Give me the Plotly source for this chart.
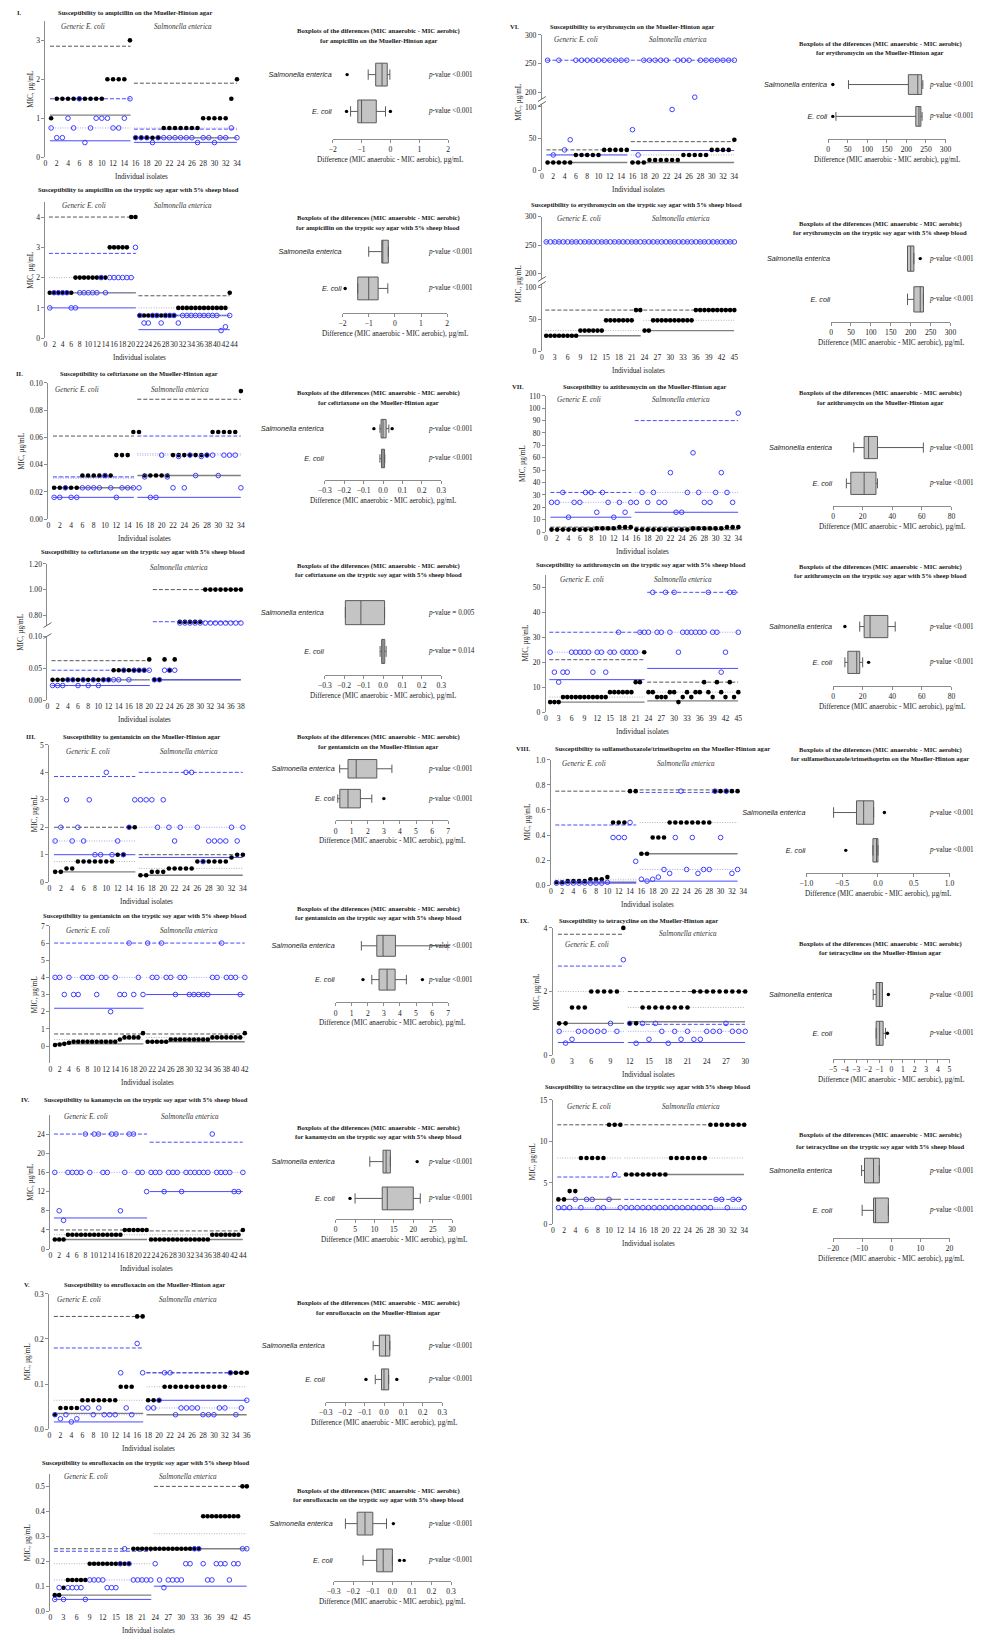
import plotly.graph_objects as go

# ============================ DATA ============================
# MIC values (µg/mL) per isolate: "aerobic" = filled black dots, "anaerobic" = open blue circles.
# Reference levels per group: [aer dashed, aer dotted, aer solid, anaer dashed, anaer dotted, anaer solid]

# I. Ampicillin - Mueller-Hinton
amp_mh_n_ecoli = 15
amp_mh_aerobic = [1, 1.5, 1.5, 1.5, 1.5, 1.5, 1.5, 1.5, 1.5, 1.5, 2, 2, 2, 2, 3,
                  0.5, 0.5, 0.5, 0.5, 0.5, 0.75, 0.75, 0.75, 0.75, 0.75, 0.75, 0.75, 1, 1, 1, 1, 1, 1.5, 2]
amp_mh_anaerobic = [0.75, 0.5, 0.5, 1, 0.75, 1.5, 0.375, 0.75, 1, 1, 1, 0.75, 0.75, 1, 1.5,
                    0.5, 0.5, 0.5, 0.375, 0.5, 0.5, 0.5, 0.5, 0.5, 0.5, 0.5, 0.375, 0.5, 0.5, 0.375, 0.5, 0.5, 0.75, 0.5]
amp_mh_ref_ecoli = [2.85, None, 1.08, 1.5, 0.75, 0.42]
amp_mh_ref_salm = [1.9, 0.75, 0.5, 0.72, 0.5, 0.38]

# I. Ampicillin - tryptic soy agar + blood
amp_tsa_n_ecoli = 21
amp_tsa_aerobic = [1.5] * 6 + [2] * 8 + [3] * 5 + [4] * 2 + [0.75] * 9 + [1] * 12 + [1.5]
amp_tsa_anaerobic = [1, 1.5, 1.5, 1.5, 1.5, 1, 1, 1.5, 1.5, 1.5, 1.5, 1.5, 2, 1.5, 2, 2, 2, 2, 2, 2, 3,
                     0.75, 0.5, 0.5, 0.75, 0.75, 0.5, 0.75, 0.75, 0.75, 0.5] + [0.75] * 9 + [0.25, 0.375, 0.75]
amp_tsa_ref_ecoli = [4.0, 2.0, 1.5, 2.8, 1.5, 1.0]
amp_tsa_ref_salm = [1.4, 1.0, 0.75, 0.75, 0.75, 0.28]

# II. Ceftriaxone - Mueller-Hinton
cef_mh_n_ecoli = 15
cef_mh_aerobic = [0.023] * 5 + [0.032] * 6 + [0.047] * 3 + [0.064] + \
                 [0.064] + [0.032] * 5 + [0.047] * 7 + [0.064] * 5 + [0.094]
cef_mh_anaerobic = [0.016, 0.016, 0.023, 0.016, 0.016, 0.023, 0.023, 0.023, 0.023, 0.032, 0.023, 0.016, 0.023, 0.023, 0.023,
                    0.023, 0.031, 0.016, 0.016, 0.047, 0.031, 0.023, 0.046, 0.023, 0.047, 0.032, 0.046, 0.047, 0.047,
                    0.032, 0.047, 0.047, 0.047, 0.023]
cef_mh_ref_ecoli = [0.061, 0.031, 0.023, 0.031, 0.030, 0.016]
cef_mh_ref_salm = [0.088, 0.048, 0.032, 0.061, 0.047, 0.016]

# II. Ceftriaxone - tryptic soy agar + blood
cef_tsa_n_ecoli = 20
cef_tsa_aerobic = [0.032] * 12 + [0.047] * 7 + [0.064] + [0.032, 0.032, 0.064, 0.047, 0.064] + [0.75] * 5 + [1.0] * 8
cef_tsa_anaerobic = [0.023, 0.023, 0.023, 0.032, 0.032, 0.023, 0.032, 0.023, 0.032, 0.023, 0.032, 0.032, 0.032, 0.032,
                     0.047, 0.032, 0.047, 0.047, 0.047, 0.047, 0.032, 0.032, 0.047, 0.047, 0.047] + [0.74] * 13
cef_tsa_ref_ecoli = [0.062, 0.032, 0.032, 0.047, 0.032, 0.023]
cef_tsa_ref_salm = [1.0, None, 0.032, 0.75, None, 0.032]

# III. Gentamicin - Mueller-Hinton
gen_mh_n_ecoli = 15
gen_mh_aerobic = [0.375, 0.375, 0.5, 0.5] + [0.75] * 7 + [1, 1, 2, 2] + \
                 [0.25, 0.25, 0.375, 0.375, 0.375] + [0.5] * 5 + [0.75] * 6 + [0.9, 1, 1]
gen_mh_anaerobic = [1.5, 2, 3, 1.5, 2, 1.5, 3, 1, 1, 4, 1, 1.5, 1, 2, 3,
                    3, 3, 3, 2, 3, 2, 1.5, 2, 4, 4, 2, 0.75, 1.5, 1.5, 1.5, 1.5, 2, 1.5, 2]
gen_mh_ref_ecoli = [2.0, 0.75, 0.375, 3.85, 1.5, 1.0]
gen_mh_ref_salm = [1.0, 0.5, 0.25, 4.0, 2.0, 0.9]

# III. Gentamicin - tryptic soy agar + blood
gen_tsa_n_ecoli = 20
gen_tsa_aerobic = [0.06, 0.09, 0.125, 0.19] + [0.25] * 10 + [0.375] + [0.5] * 4 + [0.75] + \
                  [0.25] * 5 + [0.375] * 9 + [0.5] * 7 + [0.75]
gen_tsa_anaerobic = [4, 4, 3, 4, 3, 3, 4, 4, 4, 3, 4, 4, 2, 4, 3, 3, 6, 3, 4, 3,
                     6, 4, 4, 6, 4, 4, 3, 4, 4, 3, 3, 3, 3, 3, 4, 4, 6, 4, 4, 4, 3, 4]
gen_tsa_ref_ecoli = [0.7, 0.375, 0.125, 6.0, 4.0, 2.2]
gen_tsa_ref_salm = [0.7, 0.5, 0.25, 6.0, 4.0, 3.0]

# IV. Kanamycin - tryptic soy agar + blood
kan_tsa_n_ecoli = 22
kan_tsa_aerobic = [2] * 3 + [3] * 13 + [4] * 6 + [2] * 14 + [3] * 7 + [4]
kan_tsa_anaerobic = [16, 8, 6, 16, 16, 16, 16, 24, 16, 24, 24, 16, 16, 24, 24, 8, 16, 24, 24, 16, 16, 12,
                     16, 16, 16, 12, 16, 16, 16, 12, 16, 16, 16, 16, 16, 16, 24, 16, 16, 16, 16, 12, 12, 16]
kan_tsa_ref_ecoli = [4, 3, 2, 24, 16, 6.5]
kan_tsa_ref_salm = [3.8, 3, 2, 22.3, 16, 12]

# V. Enrofloxacin - Mueller-Hinton
enr_mh_n_ecoli = 17
enr_mh_aerobic = [0.032] + [0.047] * 4 + [0.064] * 7 + [0.094] * 3 + [0.25] * 2 + \
                 [0.064] * 3 + [0.094] * 12 + [0.125] * 4
enr_mh_anaerobic = [0.032, 0.023, 0.032, 0.016, 0.023, 0.047, 0.047, 0.032, 0.047, 0.032, 0.032, 0.032, 0.125, 0.047,
                    0.032, 0.19, 0.125,
                    0.047, 0.047, 0.064, 0.125, 0.125, 0.032, 0.047, 0.047, 0.047, 0.047, 0.032, 0.032, 0.032, 0.047,
                    0.047, 0.125, 0.032, 0.047, 0.064]
enr_mh_ref_ecoli = [0.25, 0.064, 0.035, 0.18, 0.032, 0.016]
enr_mh_ref_salm = [0.125, 0.094, 0.032, 0.125, 0.047, 0.064]

# V. Enrofloxacin - tryptic soy agar + blood
enr_tsa_n_ecoli = 23
enr_tsa_aerobic = [0.064, 0.064, 0.094] + [0.125] * 5 + [0.19] * 10 + [0.25] * 5 + [0.25] * 11 + [0.38] * 9 + [0.5] * 2
enr_tsa_anaerobic = [0.047, 0.094, 0.047, 0.094, 0.094, 0.094, 0.094, 0.047, 0.125, 0.125, 0.125, 0.125, 0.094, 0.094,
                     0.094, 0.19, 0.25, 0.19, 0.125, 0.125, 0.125, 0.125, 0.125,
                     0.19, 0.125, 0.094, 0.125, 0.125, 0.125, 0.125, 0.19, 0.19, 0.25, 0.25, 0.19, 0.125, 0.125, 0.19,
                     0.19, 0.19, 0.125, 0.19, 0.19, 0.25, 0.25]
enr_tsa_ref_ecoli = [0.25, 0.19, 0.064, 0.24, 0.125, 0.047]
enr_tsa_ref_salm = [0.5, 0.31, 0.25, None, None, 0.1]

# VI. Erythromycin - Mueller-Hinton
ery_mh_n_ecoli = 15
ery_mh_aerobic = [12] * 5 + [24] * 5 + [32] * 5 + [12] * 3 + [16] * 6 + [24] * 5 + [32] * 4 + [48]
ery_mh_anaerobic = [256, 24, 256, 32, 48] + [256] * 10 + \
                   [64, 24, 256, 256, 256, 256, 256, 96, 256, 256, 256, 192, 256, 256, 256, 256, 256, 256, 256]
ery_mh_ref_ecoli = [32, 24, 12, 256, None, 24]
ery_mh_ref_salm = [45, 24, 12, 256, None, 31]

# VI. Erythromycin - tryptic soy agar + blood
ery_tsa_n_ecoli = 23
ery_tsa_aerobic = [24] * 8 + [32] * 6 + [48] * 7 + [64] * 2 + [32] * 2 + [48] * 10 + [64] * 10
ery_tsa_anaerobic = [256] * 45
ery_tsa_ref_ecoli = [64, 32, 24, 256, None, None]
ery_tsa_ref_salm = [64, 48, 32, 256, None, None]

# VII. Azithromycin - Mueller-Hinton
azi_mh_n_ecoli = 15
azi_mh_aerobic = [2] * 8 + [3] * 4 + [4] * 3 + [2] * 10 + [3] * 6 + [4] * 3
azi_mh_anaerobic = [24, 24, 32, 12, 24, 24, 32, 32, 16, 32, 24, 12, 24, 16, 24,
                    24, 32, 24, 32, 24, 24, 48, 16, 16, 32, 64, 32, 24, 24, 32, 48, 32, 24, 96]
azi_mh_ref_ecoli = [4, 3, 2, 32, 24, 12]
azi_mh_ref_salm = [4, 3, 2, 90, 32, 16]

# VII. Azithromycin - tryptic soy agar + blood
azi_tsa_n_ecoli = 23
azi_tsa_aerobic = [4] * 3 + [6] * 11 + [8] * 6 + [12, 12, 24] + \
                  [8, 8, 6, 6, 6, 8, 8, 4, 6, 8, 6, 8, 8, 12, 8, 6, 12, 8, 6, 12, 6, 8]
azi_tsa_anaerobic = [24, 16, 12, 16, 16, 24, 24, 24, 24, 24, 16, 24, 24, 16, 24, 24, 32, 24, 24, 24, 24, 32, 32,
                     32, 48, 32, 32, 48, 32, 48, 24, 32, 32, 32, 32, 32, 32, 48, 32, 32, 16, 24, 48, 48, 32]
azi_tsa_ref_ecoli = [21, 6, 4, 32, 24, 13]
azi_tsa_ref_salm = [12, 8, 4.5, 48, 32, 17.5]

# VIII. Sulfamethoxazole/trimethoprim - Mueller-Hinton
sxt_mh_n_ecoli = 15
sxt_mh_aerobic = [0.023, 0.023, 0.032, 0.032, 0.032, 0.032, 0.047, 0.047, 0.047, 0.064, 0.5, 0.5, 0.5, 0.75, 0.75,
                  0.25, 0.25, 0.38, 0.38, 0.38] + [0.5] * 8 + [0.75] * 5
sxt_mh_anaerobic = [0.016] * 9 + [0.023, 0.38, 0.38, 0.38, 0.5, 0.19,
                                  0.047, 0.032, 0.047, 0.064, 0.125, 0.094, 0.38, 0.75, 0.125, 0.38, 0.094, 0.125,
                                  0.125, 0.75, 0.38, 0.75, 0.094, 0.125]
sxt_mh_ref_ecoli = [0.75, 0.047, 0.023, 0.48, 0.032, 0.016]
sxt_mh_ref_salm = [0.76, 0.5, 0.25, 0.74, 0.125, 0.032]

# IX. Tetracycline - Mueller-Hinton
tet_mh_n_ecoli = 11
tet_mh_aerobic = [1, 1, 1.5, 1.5, 1.5, 2, 2, 2, 2, 2, 4] + [1, 1] + [1.5] * 8 + [2] * 9
tet_mh_anaerobic = [0.75, 0.38, 0.5, 0.75, 0.75, 0.75, 0.75, 0.75, 1, 0.75, 3,
                    1, 0.375, 1, 0.5, 1, 0.75, 0.375, 0.75, 0.5, 0.75, 0.5, 0.5, 0.75, 0.75, 0.75, 1, 0.75, 0.75, 0.75]
tet_mh_ref_ecoli = [3.8, 2, 1.0, 2.8, 0.75, 0.4]
tet_mh_ref_salm = [2.0, 1.5, 1.05, 0.97, 0.75, 0.4]

# IX. Tetracycline - tryptic soy agar + blood
tet_tsa_n_ecoli = 12
tet_tsa_aerobic = [3, 3, 4, 4, 8, 8, 8, 8, 8, 12, 12, 12] + [6] * 8 + [8] * 7 + [12] * 7
tet_tsa_anaerobic = [2, 2, 2, 3, 2, 3, 3, 2, 2, 3, 6, 2] + [2] * 16 + [3, 3, 2, 3, 3, 2]
tet_tsa_ref_ecoli = [12, 8, 3, 5.7, 2, 1.8]
tet_tsa_ref_salm = [12, 8, 6, 3, 2, 1.8]

# Boxplots of differences: [lower whisker, Q1, median, Q3, upper whisker]; outliers; p-values
amp_mh_box_salm, amp_mh_out_salm = [-0.77, -0.51, -0.29, -0.11, -0.02], [-1.5]
amp_mh_box_ecoli, amp_mh_out_ecoli = [-1.38, -1.13, -1.0, -0.49, -0.17], [-1.52, 0.0]
amp_tsa_box_salm, amp_tsa_out_salm = [-1.0, -0.5, -0.5, -0.25, -0.25], []
amp_tsa_box_ecoli, amp_tsa_out_ecoli = [-1.42, -1.42, -1.0, -0.64, -0.27], [-1.9]
cef_mh_box_salm, cef_mh_out_salm = [-0.016, -0.01, 0.0, 0.016, 0.03], [-0.047, 0.047]
cef_mh_box_ecoli, cef_mh_out_ecoli = [-0.016, -0.008, 0.0, 0.008, 0.009], []
cef_tsa_box_salm, cef_tsa_out_salm = [-0.194, -0.194, -0.114, 0.008, 0.008], []
cef_tsa_box_ecoli, cef_tsa_out_ecoli = [-0.015, -0.007, 0.0, 0.009, 0.016], []
gen_mh_box_salm, gen_mh_out_salm = [0.25, 0.77, 1.28, 2.56, 3.5], [-0.1]
gen_mh_box_ecoli, gen_mh_out_ecoli = [0.13, 0.26, 0.77, 1.54, 2.25], [-0.1, 3.0]
gen_tsa_box_salm, gen_tsa_out_salm = [1.6, 2.56, 2.95, 3.72, 7.0], []
gen_tsa_box_ecoli, gen_tsa_out_ecoli = [2.25, 2.7, 3.2, 3.7, 4.4], [1.7, 5.4]
kan_tsa_box_salm, kan_tsa_out_salm = [8.8, 12.2, 13.0, 14.1, 14.1], [21]
kan_tsa_box_ecoli, kan_tsa_out_ecoli = [5, 12, 13.3, 20, 21.8], [3.7]
enr_mh_box_salm, enr_mh_out_salm = [-0.056, -0.024, 0.008, 0.03, 0.03], []
enr_mh_box_ecoli, enr_mh_out_ecoli = [-0.045, -0.013, 0.0, 0.024, 0.024], [-0.093, 0.066]
enr_tsa_box_salm, enr_tsa_out_salm = [-0.24, -0.18, -0.14, -0.1, -0.03], [0.005]
enr_tsa_box_ecoli, enr_tsa_out_ecoli = [-0.15, -0.08, -0.047, 0.0, 0.0], [0.037, 0.06]
ery_mh_box_salm, ery_mh_out_salm = [52, 205, 229, 239, 242], [12]
ery_mh_box_ecoli, ery_mh_out_ecoli = [20, 224, 232, 237, 240], [12]
ery_tsa_box_salm, ery_tsa_out_salm = [192, 192, 200, 208, 208], [224]
ery_tsa_box_ecoli, ery_tsa_out_ecoli = [192, 208, 224, 232, 232], []
azi_mh_box_salm, azi_mh_out_salm = [14, 21, 24, 30, 61], []
azi_mh_box_ecoli, azi_mh_out_ecoli = [9, 12, 21, 29, 30], []
azi_tsa_box_salm, azi_tsa_out_salm = [18, 21, 25, 37, 42], [8]
azi_tsa_box_ecoli, azi_tsa_out_ecoli = [8, 10, 16, 18, 20], [24]
sxt_mh_box_salm, sxt_mh_out_salm = [-0.62, -0.3, -0.2, -0.06, -0.06], [0.09]
sxt_mh_box_ecoli, sxt_mh_out_ecoli = [-0.07, -0.07, -0.02, 0.0, 0.0], [-0.45]
tet_mh_box_salm, tet_mh_out_salm = [-1.55, -1.3, -1.0, -0.76, -0.76], [-0.25]
tet_mh_box_ecoli, tet_mh_out_ecoli = [-1.3, -1.3, -1.0, -0.7, -0.5], [-0.33]
tet_tsa_box_salm, tet_tsa_out_salm = [-10.2, -9.2, -6.1, -4.1, -4.1], []
tet_tsa_box_ecoli, tet_tsa_out_ecoli = [-10, -6.1, -5.4, -1.0, -1.0], []

pv_std = ["&lt;0.001", "&lt;0.001"]
pv_cef_tsa = ["= 0.005", "= 0.014"]

# ============================ STYLE / HELPERS ============================
W, H = 994, 1640
SERIF = "Liberation Serif, Times New Roman, Times, serif"
SANS = "Liberation Sans, Arial, Helvetica, sans-serif"
FS = 7.2
FT = 6.6
AXC = "#8c8c8c"
TICKFONT = dict(family=SERIF, size=7.6, color="#222")

LINE_STYLES = [
    dict(color="#555555", dash="4px,2px", width=1),
    dict(color="#b4b4b4", dash="1px,1.5px", width=1),
    dict(color="#808080", dash="solid", width=1.4),
    dict(color="#4b4bff", dash="4px,2px", width=1),
    dict(color="#a4a4ff", dash="1px,1.5px", width=1),
    dict(color="#4b4bff", dash="solid", width=1),
]


def X(p):
    return p / W


def Y(p):
    return 1 - p / H


fig = go.Figure()
axes = {}
annotations = []
shapes = []
cnt = {"x": 0, "y": 0}


def key_of(n):
    return n[0] + "axis" + n[1:]


def add_axis(kind, kw):
    cnt[kind] += 1
    k = cnt[kind]
    nm = kind if k == 1 else "%s%d" % (kind, k)
    axes[key_of(nm)] = kw
    return nm


def ann(text, px, py, size=FS, family=SERIF, xanchor="center", angle=0, color="#1a1a1a"):
    annotations.append(dict(text=text, x=X(px), y=Y(py), xref="paper", yref="paper", showarrow=False,
                            xanchor=xanchor, yanchor="middle", textangle=angle,
                            font=dict(family=family, size=size, color=color)))


def scatter_panel(sp):
    aer, ana, nE = sp["aer"], sp["ana"], sp["nE"]
    N = len(aer)
    xs = list(range(1, N + 1))
    xmax = sp["xmax"]
    x0p, x1p = sp["xpx"]
    xn = add_axis("x", dict(domain=[X(x0p), X(x1p)], range=[0, xmax], tickmode="array",
                            tickvals=list(range(0, xmax + 1, sp["dtick"])), tickangle=0, showline=False,
                            showgrid=False, zeroline=False, ticks="", tickfont=TICKFONT, fixedrange=True))
    segs = sp["segs"]
    ynames = []
    for sg in segs:
        yb, yt = sg["px"]
        ykw = dict(domain=[Y(yb), Y(yt)], range=sg["range"], tickmode="array", tickvals=sg["ticks"],
                   showline=True, linecolor=AXC, linewidth=1, ticks="outside", ticklen=3, tickcolor=AXC,
                   tickfont=TICKFONT, showgrid=False, zeroline=False, fixedrange=True, anchor=xn)
        if sg.get("fmt"):
            ykw["tickformat"] = sg["fmt"]
        ynames.append(add_axis("y", ykw))
    axes[key_of(xn)]["anchor"] = ynames[0]

    def seg_of(v):
        for i, sg in enumerate(segs):
            if v <= sg["range"][1] + 1e-9:
                return i
        return len(segs) - 1

    groups = [(0.8, nE + 0.1, sp["ref_e"]), (nE + 0.7, N, sp["ref_s"])]
    for k, sty in enumerate(LINE_STYLES):
        for si in range(len(segs)):
            lx, ly = [], []
            for (a, b, ref) in groups:
                v = ref[k]
                if v is None or seg_of(v) != si:
                    continue
                lx += [a, b, None]
                ly += [v, v, None]
            if lx:
                fig.add_trace(go.Scatter(x=lx, y=ly, mode="lines", line=sty, xaxis=xn, yaxis=ynames[si],
                                         hoverinfo="skip", showlegend=False, cliponaxis=False))
    for si in range(len(segs)):
        bx = [x for x, v in zip(xs, aer) if seg_of(v) == si]
        by = [v for v in aer if seg_of(v) == si]
        fig.add_trace(go.Scatter(x=bx, y=by, mode="markers", xaxis=xn, yaxis=ynames[si],
                                 marker=dict(symbol="circle", size=4.6, color="black"),
                                 hoverinfo="skip", showlegend=False, cliponaxis=False))
        ox = [x for x, v in zip(xs, ana) if seg_of(v) == si]
        oy = [v for v in ana if seg_of(v) == si]
        fig.add_trace(go.Scatter(x=ox, y=oy, mode="markers", xaxis=xn, yaxis=ynames[si],
                                 marker=dict(symbol="circle-open", size=4.6, color="#3f3fff", line=dict(width=1)),
                                 hoverinfo="skip", showlegend=False, cliponaxis=False))
    # break marks
    if len(segs) > 1:
        for py in (segs[0]["px"][1], segs[1]["px"][0]):
            shapes.append(dict(type="line", xref="paper", yref="paper", x0=X(x0p - 4), y0=Y(py + 2),
                               x1=X(x0p + 4), y1=Y(py - 3), line=dict(color="#666", width=1)))
    ybot = segs[0]["px"][0]
    ytop = segs[-1]["px"][1]
    # texts
    ann("<b>%s</b>" % sp["title"], sp["title_pos"][0], sp["title_pos"][1], size=FT)
    if sp.get("roman"):
        ann("<b>%s</b>" % sp["roman"][0], sp["roman"][1], sp["roman"][2], size=FT)
    if sp.get("lab_e"):
        ann("<i>Generic E. coli</i>", sp["lab_e"][0], sp["lab_e"][1], color="#333")
    if sp.get("lab_s"):
        ann("<i>Salmonella enterica</i>", sp["lab_s"][0], sp["lab_s"][1], color="#333")
    ann("Individual isolates", (x0p + x1p) / 2, ybot + 20)
    ann("MIC, µg/mL", sp["ylab_x"], (ybot + ytop) / 2, angle=-90)


def box_panel(bp):
    t1, t2, ys, ye, yax = bp["py"]
    d = ye - ys
    ymin = -(yax - ye) / d
    ymax = 1.55
    ytop_px = ys - 0.55 * d
    x0p, x1p = bp["xpx"]
    xkw = dict(domain=[X(x0p), X(x1p)], range=bp["xr"], tick0=bp["xr"][0], dtick=bp["dtick"], showline=True,
               linecolor=AXC, linewidth=1, ticks="outside", ticklen=3, tickcolor=AXC, tickfont=TICKFONT,
               tickangle=0, showgrid=False, zeroline=False, fixedrange=True)
    if bp.get("fmt"):
        xkw["tickformat"] = bp["fmt"]
    xn = add_axis("x", xkw)
    yn = add_axis("y", dict(domain=[Y(yax), Y(ytop_px)], range=[ymin, ymax], type="linear", tickmode="array",
                            tickvals=[0, 1], ticktext=["E. coli", "Salmonella enterica"],
                            tickfont=dict(family=SANS, size=FS, color="#222", style="italic"),
                            showline=False, showgrid=False, zeroline=False, ticks="", fixedrange=True, anchor=xn))
    axes[key_of(xn)]["anchor"] = yn
    for pos, st, out in ((1, bp["sal"], bp["out_s"]), (0, bp["ec"], bp["out_e"])):
        fig.add_trace(go.Box(y=[pos], lowerfence=[st[0]], q1=[st[1]], median=[st[2]], q3=[st[3]],
                             upperfence=[st[4]], orientation="h", width=0.62, fillcolor="#c4c4c4",
                             line=dict(color="#5a5a5a", width=1), whiskerwidth=0.45, boxpoints=False,
                             xaxis=xn, yaxis=yn, showlegend=False, hoverinfo="skip"))
        if out:
            fig.add_trace(go.Scatter(x=out, y=[pos] * len(out), mode="markers", xaxis=xn, yaxis=yn,
                                     marker=dict(size=3.4, color="black"), showlegend=False,
                                     hoverinfo="skip", cliponaxis=False))
    cx = bp["title_x"]
    ann("<b>Boxplots of the diferences (MIC anaerobic - MIC aerobic)</b>", cx, t1, size=FT)
    ann("<b>for %s</b>" % bp["t2"], cx, t2, size=FT)
    ann("<i>p</i>-value %s" % bp["pv"][0], bp["pv_x"], ys, xanchor="left")
    ann("<i>p</i>-value %s" % bp["pv"][1], bp["pv_x"], ye, xanchor="left")
    ann("Difference (MIC anaerobic - MIC aerobic), µg/mL", (x0p + x1p) / 2, yax + 21)


def seg(rng, px, ticks, fmt=None):
    return dict(range=rng, px=px, ticks=ticks, fmt=fmt)


MH = "the Mueller-Hinton agar"
TSA = "the tryptic soy agar with 5% sheep blood"

scatter_specs = [
    dict(aer=amp_mh_aerobic, ana=amp_mh_anaerobic, nE=amp_mh_n_ecoli, ref_e=amp_mh_ref_ecoli, ref_s=amp_mh_ref_salm,
         xmax=34, dtick=2, xpx=(39, 233), segs=[seg([0, 3.5], (154, 17), [0, 1, 2, 3])],
         title="Susceptibility to ampicillin on " + MH, title_pos=(130, 9), roman=("I.", 13, 9),
         lab_e=(77, 23), lab_s=(178, 23), ylab_x=24),
    dict(aer=amp_tsa_aerobic, ana=amp_tsa_anaerobic, nE=amp_tsa_n_ecoli, ref_e=amp_tsa_ref_ecoli,
         ref_s=amp_tsa_ref_salm, xmax=44, dtick=2, xpx=(39, 230), segs=[seg([0, 4.5], (336, 199), [0, 1, 2, 3, 4])],
         title="Susceptibility to ampicillin on " + TSA, title_pos=(133, 187),
         lab_e=(78, 203), lab_s=(178, 203), ylab_x=24),
    dict(aer=cef_mh_aerobic, ana=cef_mh_anaerobic, nE=cef_mh_n_ecoli, ref_e=cef_mh_ref_ecoli, ref_s=cef_mh_ref_salm,
         xmax=34, dtick=2, xpx=(42, 237),
         segs=[seg([0, 0.1], (518, 381), [0, 0.02, 0.04, 0.06, 0.08, 0.10], ".2f")],
         title="Susceptibility to ceftriaxone on " + MH, title_pos=(134, 372), roman=("II.", 13, 372),
         lab_e=(71, 388), lab_s=(175, 388), ylab_x=15),
    dict(aer=cef_tsa_aerobic, ana=cef_tsa_anaerobic, nE=cef_tsa_n_ecoli, ref_e=cef_tsa_ref_ecoli,
         ref_s=cef_tsa_ref_salm, xmax=38, dtick=2, xpx=(41, 237),
         segs=[seg([0, 0.1], (700, 636), [0, 0.05, 0.10], ".2f"),
               seg([0.72, 1.2], (625, 563), [0.8, 1.0, 1.2], ".2f")],
         title="Susceptibility to ceftriaxone on " + TSA, title_pos=(138, 551),
         lab_s=(174, 567), ylab_x=14),
    dict(aer=gen_mh_aerobic, ana=gen_mh_anaerobic, nE=gen_mh_n_ecoli, ref_e=gen_mh_ref_ecoli, ref_s=gen_mh_ref_salm,
         xmax=34, dtick=2, xpx=(43, 239), segs=[seg([0, 5], (883, 745), [0, 1, 2, 3, 4, 5])],
         title="Susceptibility to gentamicin on " + MH, title_pos=(136, 737), roman=("III.", 24, 737),
         lab_e=(82, 752), lab_s=(184, 752), ylab_x=28),
    dict(aer=gen_tsa_aerobic, ana=gen_tsa_anaerobic, nE=gen_tsa_n_ecoli, ref_e=gen_tsa_ref_ecoli,
         ref_s=gen_tsa_ref_salm, xmax=42, dtick=2, xpx=(44, 241),
         segs=[seg([-1, 7], (1065, 927), [0, 1, 2, 3, 4, 5, 6, 7])],
         title="Susceptibility to gentamicin on " + TSA, title_pos=(140, 917),
         lab_e=(82, 932), lab_s=(184, 932), ylab_x=28),
    dict(aer=kan_tsa_aerobic, ana=kan_tsa_anaerobic, nE=kan_tsa_n_ecoli, ref_e=kan_tsa_ref_ecoli,
         ref_s=kan_tsa_ref_salm, xmax=44, dtick=2, xpx=(44, 239),
         segs=[seg([0, 28], (1252, 1117), [0, 4, 8, 12, 16, 20, 24])],
         title="Susceptibility to kanamycin on " + TSA, title_pos=(141, 1102), roman=("IV.", 18, 1102),
         lab_e=(80, 1119), lab_s=(185, 1119), ylab_x=24),
    dict(aer=enr_mh_aerobic, ana=enr_mh_anaerobic, nE=enr_mh_n_ecoli, ref_e=enr_mh_ref_ecoli, ref_s=enr_mh_ref_salm,
         xmax=36, dtick=2, xpx=(43, 243), segs=[seg([0, 0.3], (1433, 1297), [0, 0.1, 0.2, 0.3], ".1f")],
         title="Susceptibility to enrofloxacin on " + MH, title_pos=(139, 1288), roman=("V.", 20, 1288),
         lab_e=(73, 1303), lab_s=(183, 1303), ylab_x=21),
    dict(aer=enr_tsa_aerobic, ana=enr_tsa_anaerobic, nE=enr_tsa_n_ecoli, ref_e=enr_tsa_ref_ecoli,
         ref_s=enr_tsa_ref_salm, xmax=45, dtick=3, xpx=(44, 243),
         segs=[seg([0, 0.55], (1616, 1478), [0, 0.1, 0.2, 0.3, 0.4, 0.5], ".1f")],
         title="Susceptibility to enrofloxacin on " + TSA, title_pos=(141, 1467),
         lab_e=(80, 1481), lab_s=(183, 1481), ylab_x=21),
    dict(aer=ery_mh_aerobic, ana=ery_mh_anaerobic, nE=ery_mh_n_ecoli, ref_e=ery_mh_ref_ecoli, ref_s=ery_mh_ref_salm,
         xmax=34, dtick=2, xpx=(542, 737),
         segs=[seg([0, 104], (167, 101), [0, 50, 100]), seg([188, 300], (96, 31), [200, 250, 300])],
         title="Susceptibility to erythromycin on " + MH, title_pos=(634, 23), roman=("VI.", 514, 23),
         lab_e=(577, 36), lab_s=(680, 36), ylab_x=519),
    dict(aer=ery_tsa_aerobic, ana=ery_tsa_anaerobic, nE=ery_tsa_n_ecoli, ref_e=ery_tsa_ref_ecoli,
         ref_s=ery_tsa_ref_salm, xmax=45, dtick=3, xpx=(542, 737),
         segs=[seg([0, 104], (349, 282), [0, 50, 100]), seg([190, 300], (277, 214), [200, 250, 300])],
         title="Susceptibility to erythromycin on " + TSA, title_pos=(638, 202),
         lab_e=(580, 216), lab_s=(683, 216), ylab_x=519),
    dict(aer=azi_mh_aerobic, ana=azi_mh_anaerobic, nE=azi_mh_n_ecoli, ref_e=azi_mh_ref_ecoli, ref_s=azi_mh_ref_salm,
         xmax=34, dtick=2, xpx=(546, 741), segs=[seg([0, 110], (531, 394), list(range(0, 111, 10)))],
         title="Susceptibility to azithromycin on " + MH, title_pos=(646, 385), roman=("VII.", 518, 385),
         lab_e=(580, 398), lab_s=(683, 398), ylab_x=523),
    dict(aer=azi_tsa_aerobic, ana=azi_tsa_anaerobic, nE=azi_tsa_n_ecoli, ref_e=azi_tsa_ref_ecoli,
         ref_s=azi_tsa_ref_salm, xmax=45, dtick=3, xpx=(546, 741),
         segs=[seg([0, 55], (712, 574), [0, 10, 20, 30, 40, 50])],
         title="Susceptibility to azithromycin on " + TSA, title_pos=(642, 564),
         lab_e=(583, 579), lab_s=(685, 579), ylab_x=526),
    dict(aer=sxt_mh_aerobic, ana=sxt_mh_anaerobic, nE=sxt_mh_n_ecoli, ref_e=sxt_mh_ref_ecoli, ref_s=sxt_mh_ref_salm,
         xmax=34, dtick=2, xpx=(551, 746), segs=[seg([0, 1], (886, 760), [0, 0.2, 0.4, 0.6, 0.8, 1.0], ".1f")],
         title="Susceptibility to sulfamethoxazole/trimethoprim on " + MH, title_pos=(664, 749),
         roman=("VIII.", 523, 749), lab_e=(585, 764), lab_s=(688, 764), ylab_x=528),
    dict(aer=tet_mh_aerobic, ana=tet_mh_anaerobic, nE=tet_mh_n_ecoli, ref_e=tet_mh_ref_ecoli, ref_s=tet_mh_ref_salm,
         xmax=30, dtick=3, xpx=(553, 748), segs=[seg([0, 4], (1057, 929), [0, 2, 4])],
         title="Susceptibility to tetracycline on " + MH, title_pos=(640, 922), roman=("IX.", 524, 922),
         lab_e=(588, 946), lab_s=(690, 935), ylab_x=537),
    dict(aer=tet_tsa_aerobic, ana=tet_tsa_anaerobic, nE=tet_tsa_n_ecoli, ref_e=tet_tsa_ref_ecoli,
         ref_s=tet_tsa_ref_salm, xmax=34, dtick=2, xpx=(553, 747), segs=[seg([0, 15], (1227, 1102), [0, 5, 10, 15])],
         title="Susceptibility to tetracycline on " + TSA, title_pos=(649, 1088),
         lab_e=(590, 1109), lab_s=(693, 1109), ylab_x=533),
]

L_TX, R_TX, L_PV, R_PV = 376, 885, 425, 932
box_specs = [
    dict(sal=amp_mh_box_salm, out_s=amp_mh_out_salm, ec=amp_mh_box_ecoli, out_e=amp_mh_out_ecoli,
         xr=[-2, 2], dtick=1, xpx=(330, 447), py=(27, 37, 71, 108, 136), t2="ampicillin on " + MH,
         title_x=L_TX, pv_x=L_PV, pv=pv_std),
    dict(sal=amp_tsa_box_salm, out_s=amp_tsa_out_salm, ec=amp_tsa_box_ecoli, out_e=amp_tsa_out_ecoli,
         xr=[-2, 2], dtick=1, xpx=(340, 446), py=(215, 225, 249, 286, 311), t2="ampicillin on " + TSA,
         title_x=L_TX, pv_x=L_PV, pv=pv_std),
    dict(sal=cef_mh_box_salm, out_s=cef_mh_out_salm, ec=cef_mh_box_ecoli, out_e=cef_mh_out_ecoli,
         xr=[-0.3, 0.3], dtick=0.1, fmt=".1f", xpx=(322, 440), py=(391, 401, 427, 457, 479),
         t2="ceftriaxone on " + MH, title_x=L_TX, pv_x=L_PV, pv=pv_std),
    dict(sal=cef_tsa_box_salm, out_s=cef_tsa_out_salm, ec=cef_tsa_box_ecoli, out_e=cef_tsa_out_ecoli,
         xr=[-0.3, 0.3], dtick=0.1, fmt=".1f", xpx=(322, 440), py=(565, 574, 612, 651, 675),
         t2="ceftriaxone on " + TSA, title_x=L_TX, pv_x=L_PV, pv=pv_cef_tsa),
    dict(sal=gen_mh_box_salm, out_s=gen_mh_out_salm, ec=gen_mh_box_ecoli, out_e=gen_mh_out_ecoli,
         xr=[0, 7], dtick=1, xpx=(333, 447), py=(737, 747, 769, 799, 821), t2="gentamicin on " + MH,
         title_x=L_TX, pv_x=L_PV, pv=pv_std),
    dict(sal=gen_tsa_box_salm, out_s=gen_tsa_out_salm, ec=gen_tsa_box_ecoli, out_e=gen_tsa_out_ecoli,
         xr=[0, 7], dtick=1, xpx=(333, 447), py=(910, 919, 947, 981, 1004), t2="gentamicin on " + TSA,
         title_x=L_TX, pv_x=L_PV, pv=pv_std),
    dict(sal=kan_tsa_box_salm, out_s=kan_tsa_out_salm, ec=kan_tsa_box_ecoli, out_e=kan_tsa_out_ecoli,
         xr=[0, 30], dtick=5, xpx=(333, 451), py=(1130, 1139, 1164, 1201, 1222), t2="kanamycin on " + TSA,
         title_x=L_TX, pv_x=L_PV, pv=pv_std),
    dict(sal=enr_mh_box_salm, out_s=enr_mh_out_salm, ec=enr_mh_box_ecoli, out_e=enr_mh_out_ecoli,
         xr=[-0.3, 0.3], dtick=0.1, fmt=".1f", xpx=(323, 441), py=(1306, 1316, 1349, 1383, 1406),
         t2="enrofloxacin on " + MH, title_x=L_TX, pv_x=L_PV, pv=pv_std),
    dict(sal=enr_tsa_box_salm, out_s=enr_tsa_out_salm, ec=enr_tsa_box_ecoli, out_e=enr_tsa_out_ecoli,
         xr=[-0.3, 0.3], dtick=0.1, fmt=".1f", xpx=(331, 450), py=(1495, 1504, 1528, 1565, 1586),
         t2="enrofloxacin on " + TSA, title_x=L_TX, pv_x=L_PV, pv=pv_std),
    dict(sal=ery_mh_box_salm, out_s=ery_mh_out_salm, ec=ery_mh_box_ecoli, out_e=ery_mh_out_ecoli,
         xr=[0, 300], dtick=50, xpx=(832, 951), py=(40, 49, 81, 113, 136), t2="erythromycin on " + MH,
         title_x=R_TX, pv_x=R_PV, pv=pv_std),
    dict(sal=ery_tsa_box_salm, out_s=ery_tsa_out_salm, ec=ery_tsa_box_ecoli, out_e=ery_tsa_out_ecoli,
         xr=[0, 300], dtick=50, xpx=(835, 956), py=(221, 230, 256, 297, 320), t2="erythromycin on " + TSA,
         title_x=R_TX, pv_x=R_PV, pv=pv_std),
    dict(sal=azi_mh_box_salm, out_s=azi_mh_out_salm, ec=azi_mh_box_ecoli, out_e=azi_mh_out_ecoli,
         xr=[0, 80], dtick=20, xpx=(837, 957), py=(391, 401, 446, 482, 505), t2="azithromycin on " + MH,
         title_x=R_TX, pv_x=R_PV, pv=pv_std),
    dict(sal=azi_tsa_box_salm, out_s=azi_tsa_out_salm, ec=azi_tsa_box_ecoli, out_e=azi_tsa_out_ecoli,
         xr=[0, 80], dtick=20, xpx=(837, 957), py=(566, 575, 626, 662, 686), t2="azithromycin on " + TSA,
         title_x=R_TX, pv_x=R_PV, pv=pv_std),
    dict(sal=sxt_mh_box_salm, out_s=sxt_mh_out_salm, ec=sxt_mh_box_ecoli, out_e=sxt_mh_out_ecoli,
         xr=[-1, 1], dtick=0.5, fmt=".1f", xpx=(810, 955), py=(750, 759, 813, 851, 874),
         t2="sulfamethoxazole/trimethoprim on " + MH, title_x=R_TX, pv_x=R_PV, pv=pv_std),
    dict(sal=tet_mh_box_salm, out_s=tet_mh_out_salm, ec=tet_mh_box_ecoli, out_e=tet_mh_out_ecoli,
         xr=[-5, 5], dtick=1, xpx=(837, 955), py=(945, 954, 996, 1035, 1061), t2="tetracycline on " + MH,
         title_x=R_TX, pv_x=R_PV, pv=pv_std),
    dict(sal=tet_tsa_box_salm, out_s=tet_tsa_out_salm, ec=tet_tsa_box_ecoli, out_e=tet_tsa_out_ecoli,
         xr=[-20, 20], dtick=10, xpx=(837, 955), py=(1137, 1149, 1173, 1213, 1241), t2="tetracycline on " + TSA,
         title_x=R_TX, pv_x=R_PV, pv=pv_std),
]

for sp in scatter_specs:
    scatter_panel(sp)
for bp in box_specs:
    box_panel(bp)

fig.update_layout(width=W, height=H, autosize=False, margin=dict(l=0, r=0, t=0, b=0),
                  paper_bgcolor="white", plot_bgcolor="white", showlegend=False,
                  annotations=annotations, shapes=shapes, font=dict(family=SERIF, size=FS), **axes)

fig.write_html("out.html", config={"displayModeBar": False, "staticPlot": True},
               post_script="document.body.style.margin='0';document.body.style.overflow='hidden';")
